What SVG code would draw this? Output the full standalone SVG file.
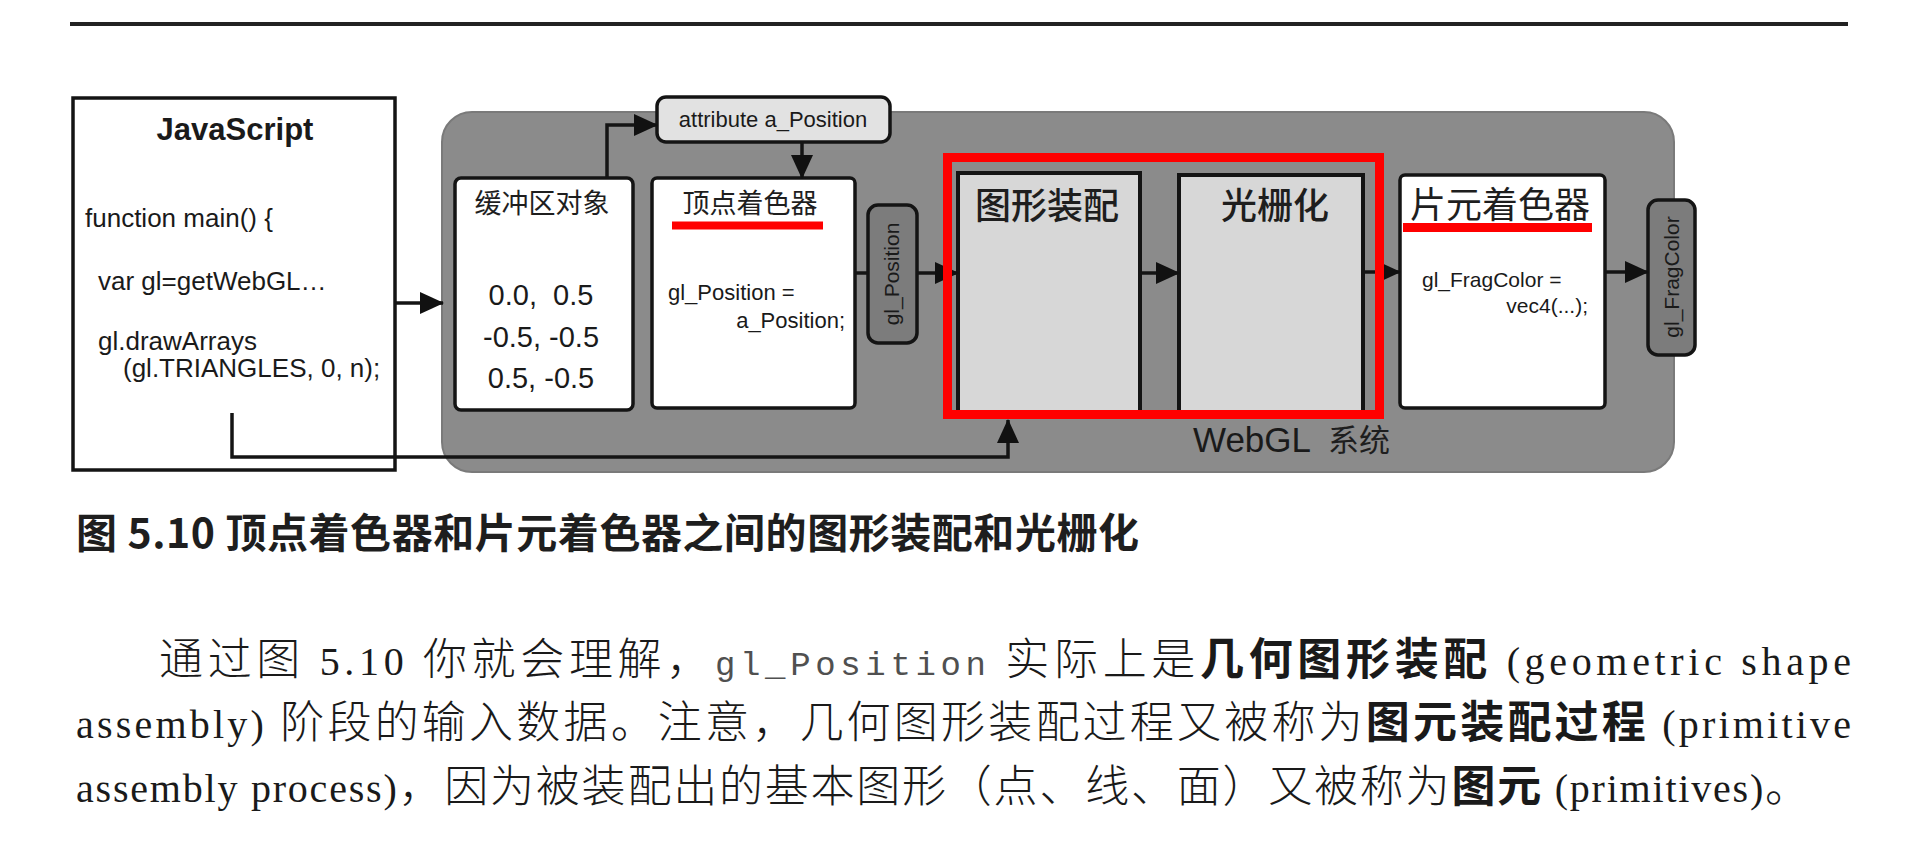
<svg xmlns="http://www.w3.org/2000/svg" width="1916" height="850" viewBox="0 0 1916 850">
  <defs>
    <marker id="arrow" markerUnits="userSpaceOnUse" markerWidth="24" markerHeight="22" refX="23" refY="11" orient="auto">
      <path d="M0,0 L24,11 L0,22 z" fill="#111"/>
    </marker>
    <style>
      .box { fill: #ffffff; stroke: #141414; stroke-width: 3.5; }
      .stage { fill: #d7d7d7; stroke: #141414; stroke-width: 4; }
      .pill { fill: #7c7c7c; stroke: #141414; stroke-width: 3.5; }
      .wire { fill: none; stroke: #141414; stroke-width: 3.5; }
      .sans { font-family: "Liberation Sans", Arial, "Noto Sans CJK SC", sans-serif; fill: #1a1a1a; }
      .cjk { font-family: "Noto Sans CJK SC", sans-serif; fill: #1e1e1e; }
      .body { font-family: "Liberation Serif", "Noto Sans CJK SC", serif; font-size: 44px; font-weight: 300; fill: #1a1a1a; }
      .lat { font-size: 40px; font-weight: 400; }
      .strong { font-family: "Noto Sans CJK SC", sans-serif; font-weight: 700; }
      .mono { font-family: "Liberation Mono", monospace; font-size: 34px; font-weight: 400; fill: #505050; }
      .mark { stroke: #ff0000; fill: none; }
    </style>
  </defs>

  <rect width="1916" height="850" fill="#ffffff"/>

  <!-- page header rule -->
  <line x1="70" y1="24" x2="1848" y2="24" stroke="#222" stroke-width="4"/>

  <!-- WebGL system panel -->
  <g id="webgl-panel">
    <rect x="442" y="112" width="1232" height="360" rx="30" fill="#8b8b8b" stroke="#7a7a7a" stroke-width="2"/>
    <text class="sans" x="1193" y="452" font-size="35">WebGL</text>
    <text class="cjk" x="1328" y="451" font-size="31">系统</text>
  </g>

  <!-- JavaScript program -->
  <g id="javascript">
    <rect class="box" x="73" y="98" width="322" height="372"/>
    <text class="sans" x="235" y="140" font-size="31" font-weight="700" text-anchor="middle">JavaScript</text>
    <text class="sans" x="85" y="227" font-size="26">function main() {</text>
    <text class="sans" x="98" y="290" font-size="26">var gl=getWebGL…</text>
    <text class="sans" x="98" y="350" font-size="26">gl.drawArrays</text>
    <text class="sans" x="123" y="377" font-size="26">(gl.TRIANGLES, 0, n);</text>
  </g>

  <!-- buffer object -->
  <g id="buffer">
    <rect class="box" x="455" y="178" width="178" height="232" rx="6"/>
    <text class="cjk" x="542" y="213" font-size="27" font-weight="400" text-anchor="middle">缓冲区对象</text>
    <text class="sans" x="541" y="305" font-size="29" text-anchor="middle" xml:space="preserve">0.0,  0.5</text>
    <text class="sans" x="541" y="347" font-size="29" text-anchor="middle">-0.5, -0.5</text>
    <text class="sans" x="541" y="388" font-size="29" text-anchor="middle">0.5, -0.5</text>
  </g>

  <!-- attribute variable -->
  <g id="attribute">
    <rect x="657" y="97" width="233" height="45" rx="9" fill="#e2e2e2" stroke="#141414" stroke-width="3.5"/>
    <text class="sans" x="773" y="127" font-size="22" text-anchor="middle">attribute a_Position</text>
  </g>

  <!-- vertex shader -->
  <g id="vertex-shader">
    <rect class="box" x="652" y="178" width="203" height="230" rx="5"/>
    <text class="cjk" x="750" y="213" font-size="27" font-weight="400" text-anchor="middle">顶点着色器</text>
    <line class="mark" x1="672" y1="225.5" x2="823" y2="225.5" stroke-width="8"/>
    <text class="sans" x="668" y="300" font-size="22">gl_Position =</text>
    <text class="sans" x="845" y="328" font-size="22" text-anchor="end">a_Position;</text>
  </g>

  <!-- gl_Position output -->
  <g id="gl-position">
    <rect class="pill" x="868" y="205" width="49" height="138" rx="10"/>
    <text class="sans" transform="translate(899,274) rotate(-90)" font-size="21" text-anchor="middle">gl_Position</text>
  </g>

  <!-- primitive assembly -->
  <g id="assembly">
    <rect class="stage" x="958" y="173" width="182" height="240"/>
    <text class="cjk" x="975" y="219" font-size="36" font-weight="500">图形装配</text>
  </g>

  <!-- rasterization -->
  <g id="rasterization">
    <rect class="stage" x="1179" y="175" width="184" height="238"/>
    <text class="cjk" x="1275" y="219" font-size="36" font-weight="500" text-anchor="middle">光栅化</text>
  </g>

  <!-- fragment shader -->
  <g id="fragment-shader">
    <rect class="box" x="1400" y="175" width="205" height="233" rx="5"/>
    <text class="cjk" x="1500" y="218" font-size="36" font-weight="400" text-anchor="middle">片元着色器</text>
    <line class="mark" x1="1403" y1="227.5" x2="1592" y2="227.5" stroke-width="9"/>
    <text class="sans" x="1422" y="287" font-size="21">gl_FragColor =</text>
    <text class="sans" x="1588" y="313" font-size="21" text-anchor="end">vec4(...);</text>
  </g>

  <!-- gl_FragColor output -->
  <g id="gl-fragcolor">
    <rect class="pill" x="1648" y="200" width="47" height="155" rx="10"/>
    <text class="sans" transform="translate(1679,277) rotate(-90)" font-size="21" text-anchor="middle">gl_FragColor</text>
  </g>

  <!-- connectors (drawn over the boxes so the drawArrays line crosses the JS box) -->
  <g id="connectors">
    <path class="wire" d="M395,303 H443" marker-end="url(#arrow)"/>
    <path class="wire" d="M607,178 V125 H657" marker-end="url(#arrow)"/>
    <path class="wire" d="M802,142 V178" marker-end="url(#arrow)"/>
    <path class="wire" d="M855,273 H868"/>
    <path class="wire" d="M917,273 H958" marker-end="url(#arrow)"/>
    <path class="wire" d="M1140,273 H1179" marker-end="url(#arrow)"/>
    <path class="wire" d="M1363,272 H1400" marker-end="url(#arrow)"/>
    <path class="wire" d="M1605,272 H1648" marker-end="url(#arrow)"/>
    <path class="wire" d="M232,413 V457 H1008 V420" marker-end="url(#arrow)"/>
  </g>

  <!-- highlight around assembly and rasterization -->
  <rect id="highlight" class="mark" x="947.5" y="157.5" width="432" height="257" stroke-width="9"/>

  <!-- figure caption -->
  <text class="cjk" x="76" y="548" font-size="41" font-weight="700" textLength="1063" lengthAdjust="spacing">图 5.10 顶点着色器和片元着色器之间的图形装配和光栅化</text>

  <!-- body paragraph -->
  <g id="paragraph">
    <text class="body" x="159" y="675" textLength="1692" lengthAdjust="spacing">通过图<tspan class="lat"> 5.10 </tspan>你就会理解，<tspan class="mono">gl_Position</tspan><tspan class="lat"> </tspan>实际上是<tspan class="strong">几何图形装配</tspan><tspan class="lat"> (geometric shape</tspan></text>
    <text class="body" x="76" y="738" textLength="1775" lengthAdjust="spacing"><tspan class="lat">assembly) </tspan>阶段的输入数据。注意，几何图形装配过程又被称为<tspan class="strong">图元装配过程</tspan><tspan class="lat"> (primitive</tspan></text>
    <text class="body" x="76" y="802" textLength="1733" lengthAdjust="spacing"><tspan class="lat">assembly process)</tspan>，因为被装配出的基本图形（点、线、面）又被称为<tspan class="strong">图元</tspan><tspan class="lat"> (primitives)</tspan>。</text>
  </g>
</svg>
